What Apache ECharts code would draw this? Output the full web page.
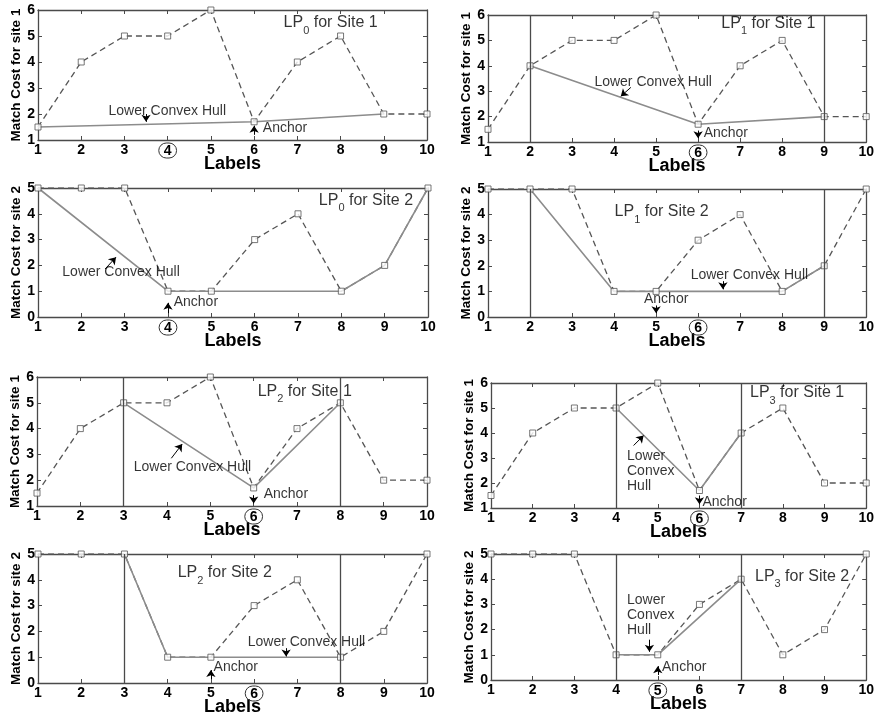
<!DOCTYPE html>
<html>
<head>
<meta charset="utf-8">
<script src="https://cdn.jsdelivr.net/npm/echarts@6/dist/echarts.min.js"></script>
<style>html,body{margin:0;padding:0;background:#fff;}#c{width:877px;height:719px;}</style>
</head>
<body>
<div id="c"></div>
<script>
// ---- data ----
const labels = [1, 2, 3, 4, 5, 6, 7, 8, 9, 10];
const site1Cost = [1.5, 4, 5, 5, 6, 1.7, 4, 5, 2, 2];
const site2Cost = [5, 5, 5, 1, 1, 3, 4, 1, 2, 5];
const site1Ticks = [1, 2, 3, 4, 5, 6];
const site2Ticks = [0, 1, 2, 3, 4, 5];
// lower convex hull vertices (labels) per LP
const hullLP0Site1 = [1, 6, 9];
const hullLP1Site1 = [2, 6, 9];
const hullLP2Site1 = [3, 6, 8];
const hullLP3Site1 = [4, 6, 7];
const hullLP0Site2 = [1, 4, 8, 9, 10];
const hullLP1Site2 = [2, 4, 8, 9];
const hullLP2Site2 = [3, 4, 8];
const hullLP3Site2 = [4, 5, 7];
// window bounds (vertical lines) per LP
const boundsLP0 = [];
const boundsLP1 = [2, 9];
const boundsLP2 = [3, 8];
const boundsLP3 = [4, 7];
// circled (selected) label per panel
const anchorLP0Site1 = 4, anchorLP1Site1 = 6, anchorLP2Site1 = 6, anchorLP3Site1 = 6;
const anchorLP0Site2 = 4, anchorLP1Site2 = 6, anchorLP2Site2 = 6, anchorLP3Site2 = 5;

// ---- layout ----
const panels = [
  {grid:[38,10,389,130], site:1, lp:0, hull:hullLP0Site1, bounds:boundsLP0, circ:anchorLP0Site1,
   title:[6.67,5.5], hullText:[2.62,2.12], multi:false, hullArrow:[[3.5,2.0],[3.5,1.7]], anchorText:[6.19,1.46], anchorArrow:[[6,1.2],[6,1.55]]},
  {grid:[488,15,382,127], site:1, lp:1, hull:hullLP1Site1, bounds:boundsLP1, circ:anchorLP1Site1,
   title:[6.54,5.65], hullText:[3.52,3.36], multi:false, hullArrow:[[4.4,3.15],[4.16,2.8]], anchorText:[6.12,1.35], anchorArrow:[[6,1.45],[6,1.15]]},
  {grid:[38,188,390,129], site:2, lp:0, hull:hullLP0Site2, bounds:boundsLP0, circ:anchorLP0Site2,
   title:[7.47,4.53], hullText:[1.55,1.74], multi:false, hullArrow:[[2.55,1.86],[2.8,2.32]], anchorText:[4.12,0.58], anchorArrow:[[4,0.15],[4,0.55]]},
  {grid:[488,189,382,128], site:2, lp:1, hull:hullLP1Site2, bounds:boundsLP1, circ:anchorLP1Site2,
   title:[4.0,4.1], hullText:[5.81,1.64], multi:false, hullArrow:[[6.59,1.4],[6.59,1.08]], anchorText:[4.7,0.70], anchorArrow:[[5,0.45],[5,0.15]]},
  {grid:[37,377,390,129], site:1, lp:2, hull:hullLP2Site1, bounds:boundsLP2, circ:anchorLP2Site1,
   title:[6.08,5.42], hullText:[3.22,2.51], multi:false, hullArrow:[[4.1,2.85],[4.35,3.4]], anchorText:[6.22,1.47], anchorArrow:[[6,1.42],[6,1.1]]},
  {grid:[491,383,379,125], site:1, lp:3, hull:hullLP3Site1, bounds:boundsLP3, circ:anchorLP3Site1,
   title:[7.2,5.6], hullText:[4.25,2.48], multi:true, hullArrow:[[4.42,3.5],[4.66,3.9]], anchorText:[6.06,1.24], anchorArrow:[[6,1.5],[6,1.15]]},
  {grid:[38,554,389,129], site:2, lp:2, hull:hullLP2Site2, bounds:boundsLP2, circ:anchorLP2Site2,
   title:[4.22,4.26], hullText:[5.84,1.59], multi:false, hullArrow:[[6.74,1.35],[6.74,1.03]], anchorText:[5.05,0.62], anchorArrow:[[5,0.15],[5,0.5]]},
  {grid:[491,554,379,126], site:2, lp:3, hull:hullLP3Site2, bounds:boundsLP3, circ:anchorLP3Site2,
   title:[7.32,4.09], hullText:[4.25,2.58], multi:true, hullArrow:[[4.8,1.6],[4.8,1.12]], anchorText:[5.09,0.52], anchorArrow:[[5,0.2],[5,0.55]]}
];

const FONT = 'Liberation Sans, Arial, Helvetica, sans-serif';
const NARROW = '"Liberation Sans Narrow", "Arial Narrow", "Liberation Sans", sans-serif';
const frame = '#4a4a4a';
const TICKFS = 14;
const grids = [], xAxes = [], yAxes = [], series = [];

panels.forEach((p, i) => {
  const cost = p.site === 1 ? site1Cost : site2Cost;
  const ticks = p.site === 1 ? site1Ticks : site2Ticks;
  grids.push({left:p.grid[0], top:p.grid[1], width:p.grid[2], height:p.grid[3], containLabel:false});
  const tickCfg = {show:true, inside:true, length:4, lineStyle:{color:frame, width:1}};
  const lineCfg = {show:true, onZero:false, lineStyle:{color:frame, width:1.3}};
  xAxes.push({
    gridIndex:i, type:'value', min:labels[0], max:labels[labels.length-1], interval:1, position:'bottom',
    axisLine:lineCfg, axisTick:tickCfg, splitLine:{show:false},
    axisLabel:{margin:3, color:'#000', fontSize:TICKFS, fontWeight:'bold', fontFamily:FONT,
      formatter: v => v === p.circ ? '{c|' + v + '}' : '{n|' + v + '}',
      rich:{
        n:{fontSize:TICKFS, fontWeight:'bold', fontFamily:FONT, color:'#000'},
        c:{fontSize:TICKFS, fontWeight:'bold', fontFamily:FONT, color:'#000', borderColor:'#333', borderWidth:1, borderRadius:9, padding:[1,5,0,5]}
      }},
    name:'Labels', nameLocation:'middle', nameGap:15, nameMoveOverlap:false,
    nameTextStyle:{fontSize:18, fontWeight:'bold', color:'#000', fontFamily:NARROW}
  });
  xAxes.push({
    gridIndex:i, type:'value', min:labels[0], max:labels[labels.length-1], interval:1, position:'top',
    axisLine:lineCfg, axisTick:tickCfg, axisLabel:{show:false}, splitLine:{show:false}
  });
  yAxes.push({
    gridIndex:i, type:'value', min:ticks[0], max:ticks[ticks.length-1], interval:1, position:'left',
    axisLine:lineCfg, axisTick:tickCfg, splitLine:{show:false},
    axisLabel:{margin:3, color:'#000', fontSize:TICKFS, fontWeight:'bold', fontFamily:FONT},
    name:'Match Cost for site ' + p.site, nameLocation:'middle', nameGap:15, nameMoveOverlap:false,
    nameTextStyle:{fontSize:13.5, fontWeight:'bold', color:'#000', fontFamily:NARROW}
  });
  yAxes.push({
    gridIndex:i, type:'value', min:ticks[0], max:ticks[ticks.length-1], interval:1, position:'right',
    axisLine:lineCfg, axisTick:tickCfg, axisLabel:{show:false}, splitLine:{show:false}
  });
  const xi = 2*i, yi = 2*i;
  const pts = labels.map((l, k) => [l, cost[k]]);
  // dashed match cost line
  series.push({
    type:'line', xAxisIndex:xi, yAxisIndex:yi, data:pts, showSymbol:false, symbol:'none',
    lineStyle:{type:[6,4], color:'#555', width:1.3}, z:2, silent:true,
    markLine: p.bounds.length ? {
      silent:true, symbol:'none', label:{show:false}, animation:false,
      lineStyle:{type:'solid', color:frame, width:1.3},
      data:p.bounds.map(b => ({xAxis:b}))
    } : undefined
  });
  // lower convex hull
  series.push({
    type:'line', xAxisIndex:xi, yAxisIndex:yi, data:p.hull.map(l => [l, cost[l-1]]),
    symbol:'none', lineStyle:{type:'solid', color:'#8c8c8c', width:1.6}, z:3, silent:true
  });
  // square markers
  series.push({
    type:'scatter', xAxisIndex:xi, yAxisIndex:yi, data:pts, symbol:'rect', symbolSize:6,
    itemStyle:{color:'#fff', borderColor:'#555', borderWidth:1}, z:4, silent:true
  });
  // annotation texts
  const sub = String(p.lp);
  series.push({
    type:'scatter', xAxisIndex:xi, yAxisIndex:yi, symbolSize:1, itemStyle:{color:'rgba(0,0,0,0)'}, z:5, silent:true,
    data:[
      {value:p.title, label:{show:true, position:'right', distance:0,
        formatter:'{a|LP}{s|' + sub + '}{a| for Site ' + p.site + '}',
        rich:{a:{fontSize:16, fontFamily:FONT, color:'#000', lineHeight:26, verticalAlign:'middle'},
              s:{fontSize:11, fontFamily:FONT, color:'#000', verticalAlign:'bottom'}}}},
      {value:p.hullText, label:{show:true, position:'right', distance:0, align:'left',
        formatter: p.multi ? 'Lower\nConvex\nHull' : 'Lower Convex Hull',
        fontSize:14, fontFamily:FONT, color:'#000', lineHeight:15}},
      {value:p.anchorText, label:{show:true, position:'right', distance:0,
        formatter:'Anchor', fontSize:14, fontFamily:FONT, color:'#000'}}
    ]
  });
  // arrows
  series.push({
    type:'lines', coordinateSystem:'cartesian2d', xAxisIndex:xi, yAxisIndex:yi, silent:true, z:6,
    symbol:['none','arrow'], symbolSize:7,
    lineStyle:{color:'#000', width:1, opacity:1, curveness:0},
    data:[{coords:p.hullArrow}, {coords:p.anchorArrow}]
  });
});

const chart = echarts.init(document.getElementById('c'), null, {renderer:'canvas'});
chart.setOption({
  animation:false,
  backgroundColor:'#fff',
  textStyle:{fontFamily:FONT},
  grid:grids, xAxis:xAxes, yAxis:yAxes, series:series
});
</script>
</body>
</html>
